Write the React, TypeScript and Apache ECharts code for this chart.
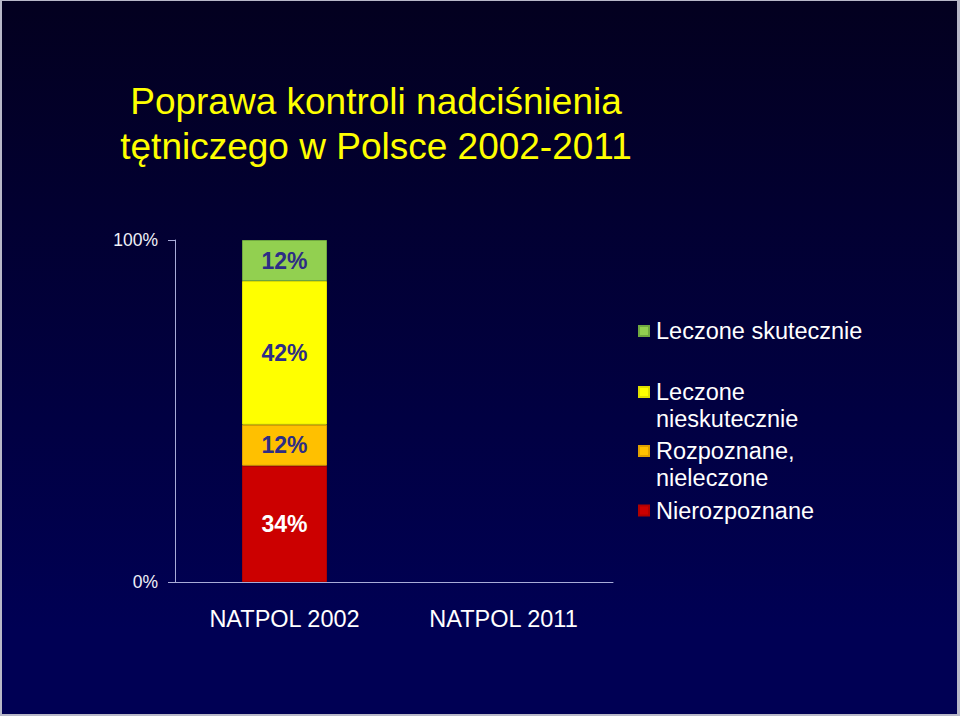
import React, { useEffect, useRef } from 'react';
import * as echarts from 'echarts';

const categories = ['NATPOL 2002', 'NATPOL 2011'];
const seriesNames = ['Nierozpoznane', 'Rozpoznane, nieleczone', 'Leczone nieskutecznie', 'Leczone skutecznie'];
const nierozpoznane = [34, null];
const rozpoznaneNieleczone = [12, null];
const leczoneNieskutecznie = [42, null];
const leczoneSkutecznie = [12, null];
const yTickLabels = ['0%', '100%'];
const titleText = 'Poprawa kontroli nadciśnienia\ntętniczego w Polsce 2002-2011';
const legendLabels: Record<string, string> = {
  'Leczone skutecznie': 'Leczone skutecznie',
  'Leczone nieskutecznie': '\nLeczone\nnieskutecznie',
  'Rozpoznane, nieleczone': '\nRozpoznane,\nnieleczone',
  'Nierozpoznane': 'Nierozpoznane',
};

const FONT = '"Liberation Sans", Arial, sans-serif';
const colors = ['#cc0000', '#ffc000', '#ffff00', '#92d050'];
const borders = ['#b00000', '#e0a000', '#e0e000', '#70a840'];
const labelColors = ['#ffffff', '#2d2d86', '#2d2d86', '#2d2d86'];
const values = [nierozpoznane, rozpoznaneNieleczone, leczoneNieskutecznie, leczoneSkutecznie];

export default function App() {
  const ref = useRef<HTMLDivElement>(null);
  useEffect(() => {
    const chart = echarts.init(ref.current!, undefined, { renderer: 'svg' });
    const legendCommon = {
      orient: 'vertical',
      icon: 'rect',
      itemWidth: 10,
      itemHeight: 10,
      padding: 0,
      left: 638,
      selectedMode: false,
      formatter: (n: string) => legendLabels[n] || n,
    };
    const single = { color: '#ffffff', fontSize: 23.5, fontFamily: FONT, padding: [0, 0, 0, 2] };
    const multi = { color: '#ffffff', fontSize: 23.5, fontFamily: FONT, lineHeight: 27, padding: [0, 0, 0, 2] };
    chart.setOption({
      animation: false,
      backgroundColor: new echarts.graphic.LinearGradient(0, 0, 0, 1, [
        { offset: 0, color: '#03001f' },
        { offset: 0.88, color: '#000054' },
        { offset: 1, color: '#000054' },
      ]),
      graphic: [
        { type: 'rect', left: 0, top: 0, shape: { width: 2, height: 716 }, style: { fill: '#b8b8c8' }, silent: true },
        { type: 'rect', left: 957, top: 0, shape: { width: 3, height: 716 }, style: { fill: '#b8b8c8' }, silent: true },
        { type: 'rect', left: 0, top: 714, shape: { width: 960, height: 2 }, style: { fill: '#b8b8c8' }, silent: true },
        { type: 'rect', left: 0, top: 0, shape: { width: 960, height: 1 }, style: { fill: '#b8b8c8' }, silent: true },
        {
          type: 'text',
          x: 376,
          y: 79,
          style: {
            text: titleText,
            align: 'center',
            verticalAlign: 'top',
            fill: '#ffff00',
            fontSize: 37,
            lineHeight: 45,
            fontFamily: FONT,
          },
        },
      ],
      grid: { left: 175, right: 347, top: 240, bottom: 134, containLabel: false },
      legend: [
        { ...legendCommon, top: 319, data: ['Leczone skutecznie'], textStyle: single },
        { ...legendCommon, top: 351.5, data: ['Leczone nieskutecznie'], textStyle: multi },
        { ...legendCommon, top: 410.5, data: ['Rozpoznane, nieleczone'], textStyle: multi },
        { ...legendCommon, top: 498.5, data: ['Nierozpoznane'], textStyle: single },
      ],
      xAxis: {
        type: 'category',
        data: categories,
        axisLine: { show: true, lineStyle: { color: '#a8acd8', width: 1 } },
        axisTick: { show: false },
        axisLabel: { color: '#ffffff', fontSize: 23.5, fontFamily: FONT, margin: 25 },
        splitLine: { show: false },
      },
      yAxis: {
        type: 'value',
        min: 0,
        max: 100,
        interval: 100,
        axisLine: { show: true, lineStyle: { color: '#a8acd8', width: 1 } },
        axisTick: { show: true, length: 7, lineStyle: { color: '#a8acd8' } },
        axisLabel: {
          color: '#f0f0f8',
          fontSize: 17.5,
          fontFamily: FONT,
          margin: 17,
          formatter: (v: number) => (v === 0 ? yTickLabels[0] : yTickLabels[1]),
        },
        splitLine: { show: false },
      },
      series: seriesNames.map((name, i) => ({
        name,
        type: 'bar',
        stack: 'total',
        barWidth: 85,
        data: values[i],
        itemStyle: { color: colors[i], borderColor: borders[i], borderWidth: 1 },
        label: {
          show: true,
          position: 'inside',
          formatter: '{c}%',
          color: labelColors[i],
          fontSize: 23,
          fontWeight: 'bold',
          fontFamily: FONT,
        },
      })),
    });
    return () => chart.dispose();
  }, []);
  return <div ref={ref} style={{ position: 'fixed', left: 0, top: 0, width: 960, height: 716 }} />;
}
